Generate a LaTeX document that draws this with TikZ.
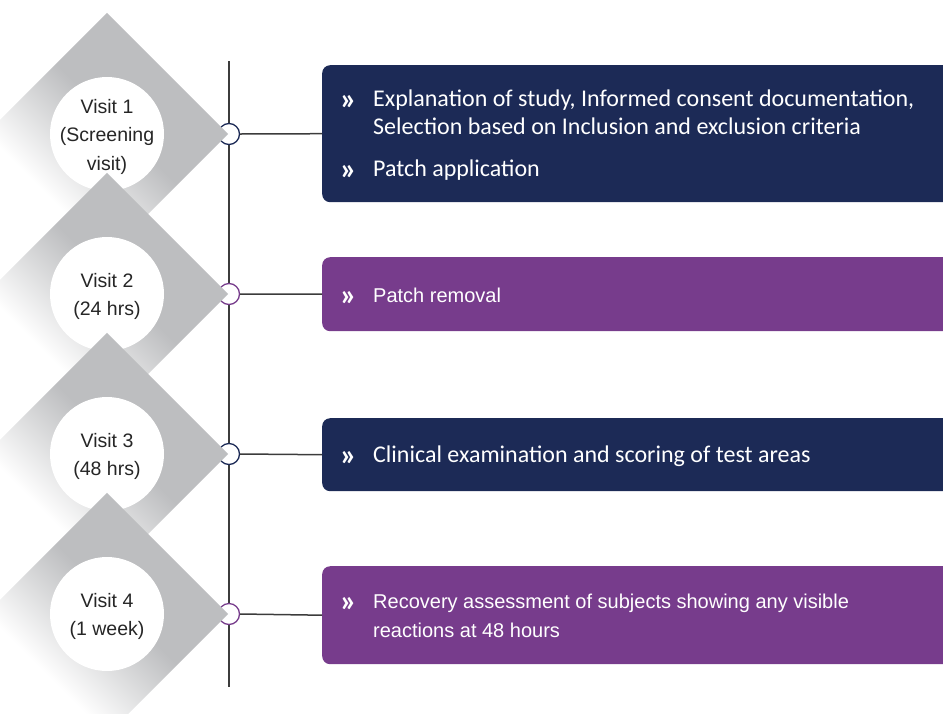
\documentclass[tikz,border=0pt]{standalone}
\usepackage{fontspec}
\setmainfont{Liberation Sans}
\newfontfamily\calfont{Carlito}
\definecolor{navy}{HTML}{1C2A56}
\definecolor{plum}{HTML}{773C8C}
\definecolor{diagray}{HTML}{BDBEC0}
\definecolor{linegray}{HTML}{3C3C3C}
% white along one side of the square, grey from about the middle to the opposite side
\pgfdeclarehorizontalshading{diamondfade}{100bp}{color(0bp)=(white); color(25bp)=(white); color(54bp)=(diagray); color(75bp)=(diagray); color(100bp)=(diagray)}
\tikzset{
  spine/.style={draw=linegray, line width=1.5pt},
  visitcircle/.style={circle, fill=white, minimum size=114pt, inner sep=0pt, align=center,
    font=\fontsize{19.5}{28.5}\selectfont, text=black!85},
  dot/.style={circle, fill=white, line width=1.3pt, minimum size=21pt, inner sep=0pt},
  stepbox/.style={rounded corners=8pt, anchor=north west, minimum width=640pt, inner sep=0pt},
  bullet/.style={anchor=base west, text=white, font=\calfont\bfseries\fontsize{31}{28}\selectfont, inner sep=0pt, yshift=-3pt},
  caltext/.style={anchor=base west, text=white, align=left, inner sep=0pt, font=\calfont\fontsize{24}{28}\selectfont},
  ariatext/.style={anchor=base west, text=white, align=left, inner sep=0pt, font=\fontsize{20}{29}\selectfont},
}
% a square turned by 45 degrees about its centre, grey towards the upper right
\newcommand{\visitdiamond}[2]{%
  \begin{scope}[transform canvas={shift={(#1,#2)}, rotate=45}]
    \shade[shading=diamondfade] (-85.6,-85.6) rectangle (85.6,85.6);
  \end{scope}}
\begin{document}
\begin{tikzpicture}[x=1pt, y=-1pt]
\useasboundingbox (0,0) rectangle (943,713);

% timeline spine
\coordinate (top) at (229,61);
\coordinate (bot) at (229,687);
\draw[spine] (top) -- (bot);

% step boxes
\node[stepbox, fill=navy, minimum height=137pt] (b1) at (322,65) {};
\node[stepbox, fill=plum, minimum height=74pt] (b2) at (322,257) {};
\node[stepbox, fill=navy, minimum height=73pt] (b3) at (322,418) {};
\node[stepbox, fill=plum, minimum height=98pt] (b4) at (322,566) {};

% timeline dots
\node[dot, draw=navy] (d1) at (229,134) {};
\node[dot, draw=plum] (d2) at (229,294) {};
\node[dot, draw=navy] (d3) at (229,454) {};
\node[dot, draw=plum] (d4) at (229,614) {};

% connectors
\draw[spine] (d1.east) -- (b1.west);
\draw[spine] (d2.east) -- (b2.west);
\draw[spine] (d3.east) -- (b3.west);
\draw[spine] (d4.east) -- (b4.west);

% visit diamonds, each overlapping the previous one
\visitdiamond{107}{134}
\node[visitcircle] (v1) at (107,134) {};
\node[visitcircle, fill=none] (v1t) at (107,136.5) {Visit 1\\(Screening\\visit)};
\visitdiamond{107}{294}
\node[visitcircle] (v2) at (107,294) {};
\node[visitcircle, fill=none] (v2t) at (107,296.5) {Visit 2\\(24 hrs)};
\visitdiamond{107}{454}
\node[visitcircle] (v3) at (107,454) {};
\node[visitcircle, fill=none] (v3t) at (107,456.5) {Visit 3\\(48 hrs)};
\visitdiamond{107}{614}
\node[visitcircle] (v4) at (107,614) {};
\node[visitcircle, fill=none] (v4t) at (107,616.5) {Visit 4\\(1 week)};

% box texts (a node's base is the baseline of its last line)
\node[bullet] (k1) at (340,106) {»};
\node[caltext] (t1) at (373,134) {Explanation of study, Informed consent documentation,\\Selection based on Inclusion and exclusion criteria};
\node[bullet] (k2) at (340,176) {»};
\node[caltext] (t2) at (373,176) {Patch application};

\node[bullet] (k3) at (340,302) {»};
\node[ariatext] (t3) at (373,302) {Patch removal};

\node[bullet] (k4) at (340,462) {»};
\node[caltext] (t4) at (373,462) {Clinical examination and scoring of test areas};

\node[bullet] (k5) at (340,608) {»};
\node[ariatext] (t5) at (373,637) {Recovery assessment of subjects showing any visible\\reactions at 48 hours};
\end{tikzpicture}
\end{document}
